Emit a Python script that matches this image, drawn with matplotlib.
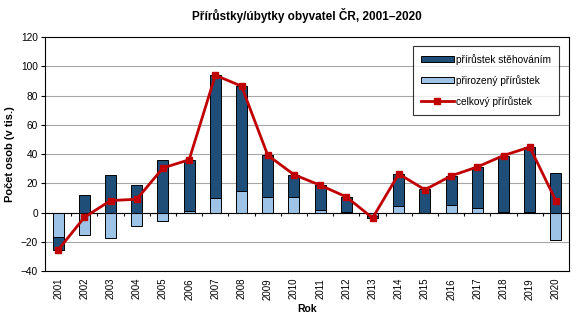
import numpy as np
import matplotlib.pyplot as plt

plt.rcParams['font.family'] = ['Liberation Sans', 'DejaVu Sans']

# data (tis. osob)
roky = [str(r) for r in range(2001, 2021)]
prirozeny = [-17.0, -15.5, -17.6, -9.5, -5.7, 1.4, 10.0, 14.6, 10.9, 10.3,
             1.8, 0.4, -2.4, 4.6, -0.4, 5.0, 2.9, 0.4, 0.5, -18.9]
stehovani = [-8.6, 12.3, 25.8, 18.6, 36.2, 34.7, 83.9, 71.8, 28.3, 15.6,
             16.9, 10.3, -1.3, 21.7, 16.0, 20.1, 28.3, 38.6, 44.3, 26.9]
celkovy = [-25.6, -3.3, 8.2, 9.1, 30.5, 36.1, 93.9, 86.4, 39.2, 25.9,
           18.7, 10.7, -3.7, 26.4, 15.6, 25.1, 31.2, 39.0, 44.8, 7.9]

tmava = '#1F4E79'
svetla = '#9DC3E6'
cervena = '#C00000'

x = np.arange(len(roky))
prir = np.array(prirozeny)
steh = np.array(stehovani)

# excel-like stacking: positive and negative parts stack separately
spodek_steh = np.where(np.sign(steh) == np.sign(prir), prir, 0)

fig = plt.figure(figsize=(5.81, 3.25), dpi=100)
ax = fig.add_axes([0.0775, 0.166, 0.902, 0.72])

ax.set_ylim(-40, 120)
ax.set_xlim(-0.5, len(roky) - 0.5)
ax.set_yticks(range(-40, 121, 20))
ax.grid(axis='y', color='#A6A6A6', lw=0.8)
ax.set_axisbelow(True)

w = 0.42
b_prir = ax.bar(x, prir, width=w, color=svetla, edgecolor='black', lw=0.7,
                zorder=2)
b_steh = ax.bar(x, steh, width=w, bottom=spodek_steh, color=tmava,
                edgecolor='black', lw=0.7, zorder=2)
l_celk, = ax.plot(x, celkovy, color=cervena, lw=2, marker='s', ms=5, zorder=3)

# osa x v nule s carkami mezi kategoriemi
ax.axhline(0, color='black', lw=0.8, zorder=2.5)
ax.vlines(x[:-1] + 0.5, -2.5, 0, color='black', lw=0.8, zorder=2.5)

ax.set_xticks(x)
ax.set_xticklabels(roky, rotation=90, fontsize=7)
ax.tick_params(axis='x', length=0, pad=5)
ax.tick_params(axis='y', labelsize=7.3, length=3, direction='out', pad=2)
for s in ax.spines.values():
    s.set_linewidth(0.8)

ax.set_title('Přírůstky/úbytky obyvatel ČR, 2001–2020', fontsize=8.5,
             fontweight='bold', pad=12)
ax.set_xlabel('Rok', fontsize=7.5, fontweight='bold', labelpad=3)
ax.set_ylabel('Počet osob (v tis.)', fontsize=8, fontweight='bold', labelpad=4)

leg = ax.legend([b_steh, b_prir, l_celk],
                ['přírůstek stěhováním', 'přirozený přírůstek', 'celkový přírůstek'],
                loc='upper right', bbox_to_anchor=(0.99, 0.985), fontsize=7.3,
                frameon=True, fancybox=False, edgecolor='black',
                handlelength=3.2, handleheight=0.5, labelspacing=1.0,
                borderpad=0.8, handletextpad=0.2)
leg.get_frame().set_linewidth(0.8)

fig.savefig('out.png', dpi=100)
